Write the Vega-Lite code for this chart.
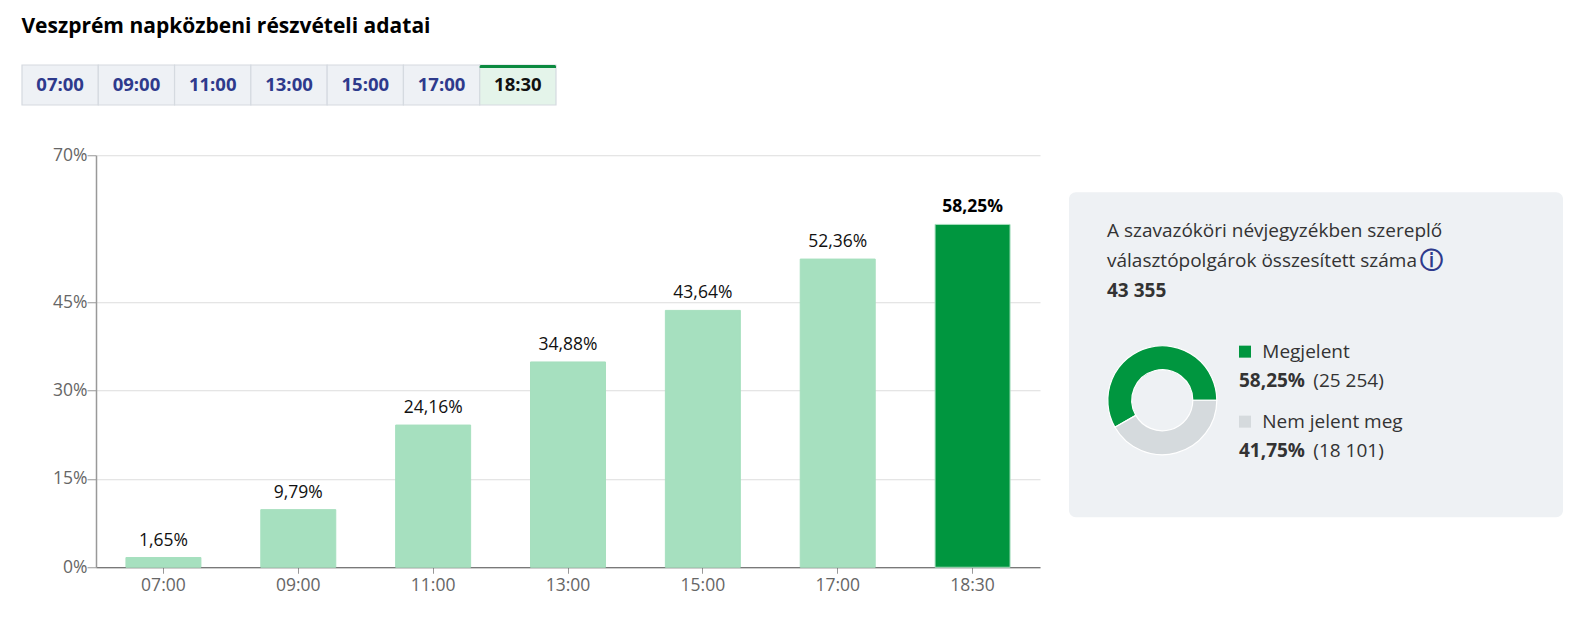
{
  "$schema": "https://vega.github.io/schema/vega-lite/v6.json",
  "padding": {"left": 21, "top": 16, "right": 10, "bottom": 10},
  "datasets": {
    "turnout": [
      {"time": "07:00", "share": 0.0165},
      {"time": "09:00", "share": 0.0979},
      {"time": "11:00", "share": 0.2416},
      {"time": "13:00", "share": 0.3488},
      {"time": "15:00", "share": 0.4364},
      {"time": "17:00", "share": 0.5236},
      {"time": "18:30", "share": 0.5825}
    ],
    "voters": [
      {"status": "Megjelent", "count": 25254, "share": 0.5825},
      {"status": "Nem jelent meg", "count": 18101, "share": 0.4175}
    ]
  },
  "title": {
    "text": "Veszprém napközbeni részvételi adatai",
    "anchor": "start",
    "fontSize": 21,
    "fontWeight": "bold",
    "color": "#000000",
    "offset": 27
  },
  "spacing": 40,
  "vconcat": [
    {
      "data": {"name": "turnout"},
      "width": 534,
      "height": 40,
      "encoding": {
        "x": {
          "field": "time",
          "type": "nominal",
          "sort": null,
          "axis": null,
          "scale": {"paddingInner": 0, "paddingOuter": 0}
        }
      },
      "layer": [
        {
          "mark": {"type": "bar", "stroke": "#d5dae0", "strokeWidth": 1.2},
          "encoding": {
            "y": {"datum": 1, "type": "quantitative", "scale": {"domain": [0, 1]}, "axis": null},
            "color": {
              "condition": {"test": "datum.time === '18:30'", "value": "#e4f4ea"},
              "value": "#eef1f5"
            }
          }
        },
        {
          "transform": [{"filter": "datum.time === '18:30'"}],
          "mark": {"type": "bar", "color": "#0b8a3f", "cornerRadiusTopLeft": 3, "cornerRadiusTopRight": 3},
          "encoding": {
            "y": {"datum": 0.925, "type": "quantitative"},
            "y2": {"datum": 1}
          }
        },
        {
          "mark": {"type": "text", "fontSize": 18.5, "fontWeight": "bold"},
          "encoding": {
            "y": {"datum": 0.5, "type": "quantitative"},
            "text": {"field": "time"},
            "color": {
              "condition": {"test": "datum.time === '18:30'", "value": "#111111"},
              "value": "#2e3a8c"
            }
          }
        }
      ]
    },
    {
      "spacing": 29,
      "center": true,
      "hconcat": [
        {
          "width": 1,
          "height": 1,
          "data": {"values": []},
          "mark": "point"
        },
        {
          "data": {"name": "turnout"},
          "width": 944,
          "height": 412,
          "encoding": {
            "x": {
              "field": "time",
              "type": "nominal",
              "sort": null,
              "title": null,
              "scale": {"paddingInner": 0.444, "paddingOuter": 0.222},
              "axis": {
                "labelAngle": 0,
                "labelFontSize": 17.5,
                "labelColor": "#666666",
                "labelPadding": 3,
                "tickSize": 6,
                "tickColor": "#999999",
                "domainColor": "#555555",
                "domainWidth": 1.2
              }
            },
            "y": {
              "field": "share",
              "type": "quantitative",
              "scale": {"domain": [0, 0.7], "nice": false},
              "axis": {
                "values": [0, 0.15, 0.3, 0.45, 0.7],
                "format": ".0%",
                "title": null,
                "labelFontSize": 17.5,
                "labelColor": "#666666",
                "labelPadding": 0,
                "tickSize": 9,
                "tickColor": "#999999",
                "domainColor": "#999999",
                "domainWidth": 1.5,
                "grid": true,
                "gridColor": "#dddddd",
                "gridWidth": 1.2
              }
            }
          },
          "layer": [
            {
              "mark": {"type": "bar", "stroke": "#a6dfbe", "strokeWidth": 1},
              "encoding": {
                "color": {
                  "condition": {"test": "datum.time === '18:30'", "value": "#00963f"},
                  "value": "#a6e0bf"
                }
              }
            },
            {
              "transform": [{"filter": "datum.time !== '18:30'"}],
              "mark": {"type": "text", "dy": -17, "fontSize": 17.5, "color": "#111111"},
              "encoding": {"text": {"field": "share", "format": ".2%"}}
            },
            {
              "transform": [{"filter": "datum.time === '18:30'"}],
              "mark": {"type": "text", "dy": -17.5, "fontSize": 17.5, "fontWeight": "bold", "color": "#000000"},
              "encoding": {"text": {"field": "share", "format": ".2%"}}
            }
          ]
        },
        {
          "width": 494,
          "height": 325,
          "view": {"fill": "#eef1f4", "stroke": null, "cornerRadius": 7},
          "title": {"text": " ", "orient": "bottom", "fontSize": 10, "offset": 29.5},
          "resolve": {"scale": {"y": "independent"}},
          "layer": [
            {
              "data": {"name": "voters"},
              "mark": {
                "type": "arc",
                "innerRadius": 30.5,
                "outerRadius": 54.5,
                "stroke": "#ffffff",
                "strokeWidth": 1.2,
                "xOffset": -153.7,
                "yOffset": 45.5
              },
              "encoding": {
                "theta": {
                  "field": "count",
                  "type": "quantitative",
                  "scale": {"range": [1.5708, 7.8540]}
                },
                "order": {"field": "status", "sort": "descending"},
                "color": {
                  "field": "status",
                  "type": "nominal",
                  "scale": {"domain": ["Megjelent", "Nem jelent meg"], "range": ["#00963f", "#d5dadd"]},
                  "legend": null
                }
              }
            },
            {
              "data": {"values": [
                {"line": "A szavazóköri névjegyzékben szereplő"},
                {"line": "választópolgárok összesített száma"}
              ]},
              "mark": {"type": "text", "align": "left", "dx": -209, "fontSize": 19, "color": "#333333"},
              "encoding": {
                "y": {
                  "field": "line",
                  "type": "nominal",
                  "axis": null,
                  "scale": {"type": "point", "padding": 0, "domain": ["A szavazóköri névjegyzékben szereplő", "választópolgárok összesített száma", "total"], "range": [38.4, 98.7]}
                },
                "text": {"field": "line"}
              }
            },
            {
              "data": {"values": [{"line": "választópolgárok összesített száma"}]},
              "mark": {"type": "text", "text": "ⓘ", "align": "center", "dx": 115, "fontSize": 23, "fontWeight": "bold", "color": "#2e3a8c", "font": "DejaVu Sans"},
              "encoding": {
                "y": {
                  "field": "line",
                  "type": "nominal",
                  "axis": null,
                  "scale": {"type": "point", "padding": 0, "domain": ["A szavazóköri névjegyzékben szereplő", "választópolgárok összesített száma", "total"], "range": [38.4, 98.7]}
                }
              }
            },
            {
              "data": {"name": "voters"},
              "transform": [{"aggregate": [{"op": "sum", "field": "count", "as": "total"}]}],
              "mark": {"type": "text", "align": "left", "dx": -209, "fontSize": 19, "fontWeight": "bold", "color": "#333333"},
              "encoding": {
                "y": {
                  "datum": "total",
                  "type": "nominal",
                  "axis": null,
                  "scale": {"type": "point", "padding": 0, "domain": ["A szavazóköri névjegyzékben szereplő", "választópolgárok összesített száma", "total"], "range": [38.4, 98.7]}
                },
                "text": {"field": "total", "type": "quantitative", "format": ",d"}
              }
            },
            {
              "data": {"name": "voters"},
              "mark": {"type": "point", "shape": "square", "filled": true, "opacity": 1, "size": 144, "xOffset": -71},
              "encoding": {
                "y": {
                  "field": "status",
                  "type": "nominal",
                  "axis": null,
                  "scale": {"type": "point", "padding": 0, "domain": ["Megjelent", "Nem jelent meg"], "range": [159.4, 229.4]}
                },
                "color": {
                  "field": "status",
                  "type": "nominal",
                  "scale": {"domain": ["Megjelent", "Nem jelent meg"], "range": ["#00963f", "#d5dadd"]},
                  "legend": null
                }
              }
            },
            {
              "data": {"name": "voters"},
              "mark": {"type": "text", "align": "left", "dx": -53.7, "fontSize": 19, "color": "#333333"},
              "encoding": {
                "y": {
                  "field": "status",
                  "type": "nominal",
                  "axis": null,
                  "scale": {"type": "point", "padding": 0, "domain": ["Megjelent", "Nem jelent meg"], "range": [159.4, 229.4]}
                },
                "text": {"field": "status"}
              }
            },
            {
              "data": {"name": "voters"},
              "mark": {"type": "text", "align": "left", "dx": -77, "fontSize": 19, "fontWeight": "bold", "color": "#333333"},
              "encoding": {
                "y": {
                  "field": "status",
                  "type": "nominal",
                  "axis": null,
                  "scale": {"type": "point", "padding": 0, "domain": ["Megjelent", "Nem jelent meg"], "range": [188.7, 258.4]}
                },
                "text": {"field": "share", "type": "quantitative", "format": ".2%"}
              }
            },
            {
              "data": {"name": "voters"},
              "mark": {"type": "text", "align": "left", "dx": -2.7, "fontSize": 19, "color": "#333333"},
              "encoding": {
                "y": {
                  "field": "status",
                  "type": "nominal",
                  "axis": null,
                  "scale": {"type": "point", "padding": 0, "domain": ["Megjelent", "Nem jelent meg"], "range": [188.7, 258.4]}
                },
                "text": {"field": "count", "type": "quantitative", "format": "$,"}
              }
            }
          ]
        }
      ]
    }
  ],
  "config": {
    "font": "Open Sans",
    "locale": {"number": {"decimal": ",", "thousands": " ", "grouping": [3], "currency": ["(", ")"]}},
    "view": {"stroke": null},
    "axis": {"labelFont": "Open Sans", "titleFont": "Open Sans"},
    "title": {"font": "Open Sans", "subtitleFont": "Open Sans"}
  }
}
